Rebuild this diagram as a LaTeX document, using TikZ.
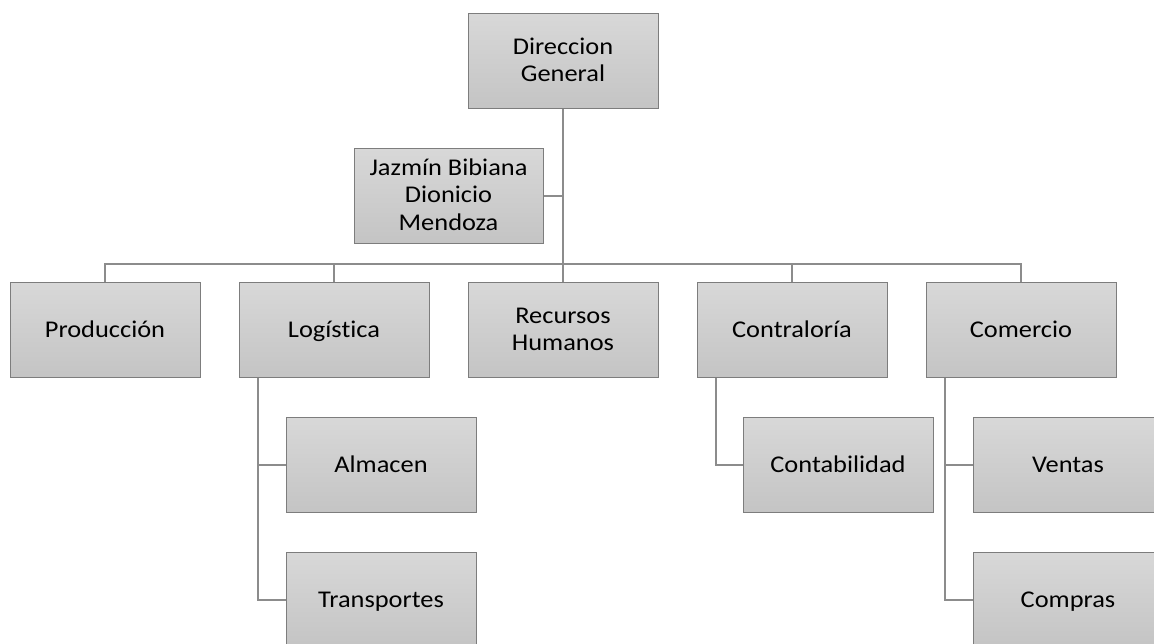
\documentclass[tikz,border=0pt]{standalone}
\usepackage{fontspec}
\setmainfont[Ligatures=NoCommon,FakeStretch=1.1]{Carlito}
\definecolor{boxtop}{RGB}{216,216,216}
\definecolor{boxbot}{RGB}{196,196,196}
\definecolor{boxline}{RGB}{125,125,125}
\definecolor{conn}{RGB}{140,140,140}
\newcommand\orgstrut{\rule[-6.75pt]{0pt}{27.5pt}}
\begin{document}
\begin{tikzpicture}[x=1pt,y=-1pt,
  orgbox/.style={draw=boxline, line width=1pt, top color=boxtop, bottom color=boxbot,
    minimum width=190pt, minimum height=95pt, inner sep=0pt, align=center,
    font=\fontsize{24}{27.5}\selectfont, text=black},
  link/.style={draw=conn, line width=2pt}]
\useasboundingbox (0,0) rectangle (1154,643);
\clip (0,0) rectangle (1154,643);
\node[orgbox] (dg) at (563,61) {\orgstrut Direccion\\\orgstrut General};
\node[orgbox, minimum width=189pt] (jz) at (448.5,195.5) {\orgstrut Jazmín Bibiana\\\orgstrut Dionicio\\\orgstrut Mendoza};
\node[orgbox] (prod) at (105,330) {\orgstrut Producción};
\node[orgbox] (log) at (334,330) {\orgstrut Logística};
\node[orgbox] (rh) at (563,330) {\orgstrut Recursos\\\orgstrut Humanos};
\node[orgbox] (cont) at (792,330) {\orgstrut Contraloría};
\node[orgbox] (com) at (1021,330) {\orgstrut Comercio};
\node[orgbox] (alm) at (381,465) {\orgstrut Almacen};
\node[orgbox] (tra) at (381,600) {\orgstrut Transportes};
\node[orgbox] (ctb) at (838,465) {\orgstrut Contabilidad};
\node[orgbox] (ven) at (1068,465) {\orgstrut Ventas};
\node[orgbox] (cmp) at (1068,600) {\orgstrut Compras};
\coordinate (bus) at (563,264);
\path[link] (dg.south) -- (bus);
\path[link] (jz.east) -- (jz.east -| dg.south);
\foreach \n in {prod,log,rh,cont,com} \path[link] (\n.north) |- (bus);
\path[link] ([xshift=19pt]log.south west) |- (alm.west);
\path[link] ([xshift=19pt]log.south west) |- (tra.west);
\path[link] ([xshift=19pt]cont.south west) |- (ctb.west);
\path[link] ([xshift=19pt]com.south west) |- (ven.west);
\path[link] ([xshift=19pt]com.south west) |- (cmp.west);
\end{tikzpicture}
\end{document}
